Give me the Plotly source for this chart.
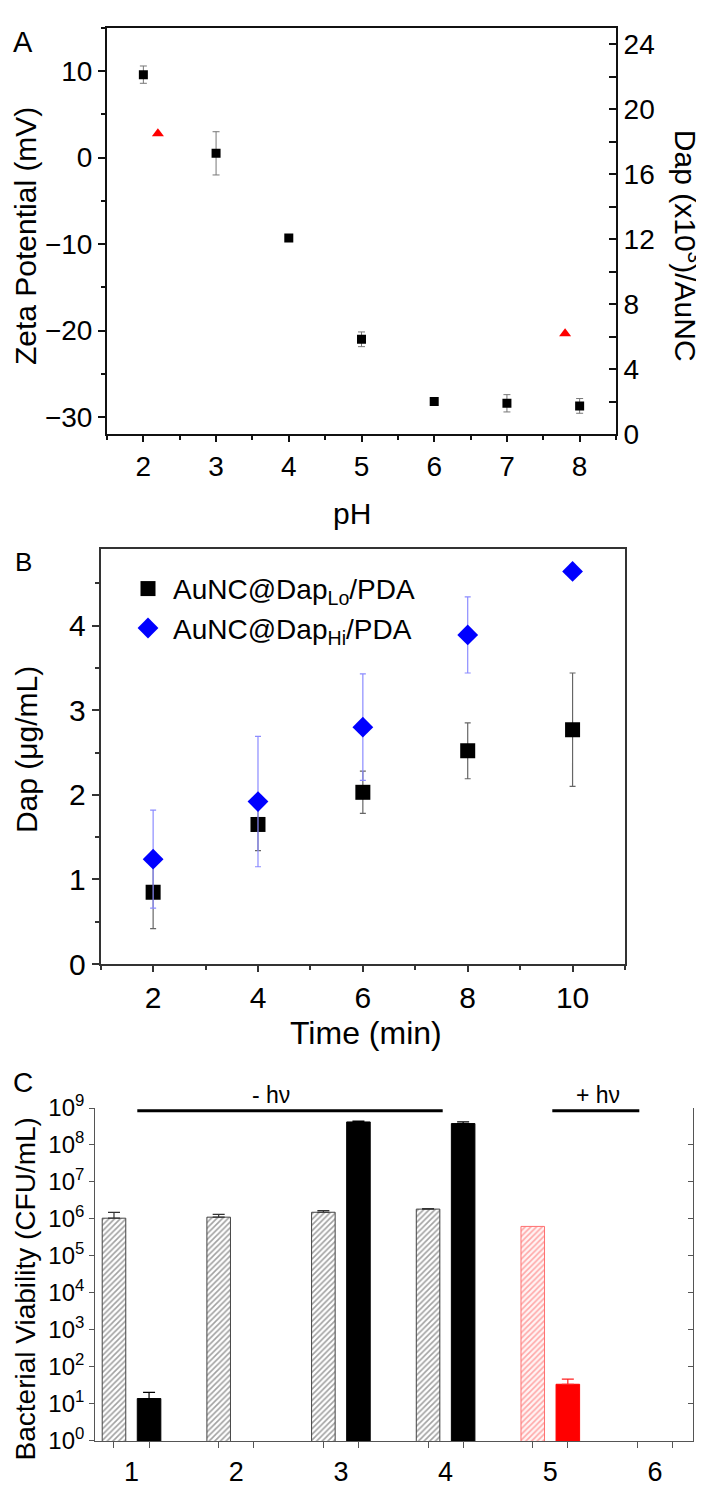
import plotly.graph_objects as go

W, H = 704, 1490
def fx(px): return px / W
def fy(py): return 1 - py / H

FONT = "Liberation Sans, Arial, sans-serif"

# ---------------- Panel A data ----------------
ph = [2, 3, 4, 5, 6, 7, 8]
zeta_mv = [9.6, 0.5, -9.3, -21.0, -28.2, -28.4, -28.7]
zeta_err = [1.0, 2.5, 0.3, 0.85, 0.3, 1.0, 0.85]
ph_dap = [2.2, 7.8]
dap_per_aunc = [18.5, 6.2]

# ---------------- Panel B data ----------------
time_min = [2, 4, 6, 8, 10]
dap_lo = [0.85, 1.65, 2.03, 2.52, 2.77]
dap_lo_err = [0.43, 0.31, 0.25, 0.33, 0.67]
dap_hi = [1.24, 1.92, 2.80, 3.89, 4.64]
dap_hi_err = [0.58, 0.77, 0.63, 0.45, 0.0]
legend_lo = "AuNC@Dap<sub>Lo</sub>/PDA"
legend_hi = "AuNC@Dap<sub>Hi</sub>/PDA"

# ---------------- Panel C data ----------------
groups = [1, 2, 3, 4, 5, 6]
group_labels = ["1", "2", "3", "4", "5", "6"]
hatched_x = [1, 2, 3, 4]
hatched_val = [1.05e6, 1.12e6, 1.52e6, 1.85e6]
hatched_err = [0.45e6, 0.22e6, 0.16e6, 0.05e6]
solid_x = [1, 3, 4]
solid_val = [14, 4.2e8, 3.8e8]
solid_err = [6.5, 0.2e8, 0.4e8]
red_hatched_x = [5]
red_hatched_val = [6.3e5]
red_solid_x = [5]
red_solid_val = [34]
red_solid_err = [13]
decades = list(range(0, 10))

BAR_W = 0.225
OFF_L = -0.28
OFF_R = 0.055

fig = go.Figure()

# Panel A
fig.add_trace(go.Scatter(
    x=ph, y=zeta_mv, mode="markers", xaxis="x", yaxis="y", showlegend=False,
    marker=dict(symbol="square", size=9, color="black"),
    error_y=dict(type="data", array=zeta_err, color="#777", thickness=1, width=3.5)))
fig.add_trace(go.Scatter(
    x=ph_dap, y=dap_per_aunc, mode="markers", xaxis="x", yaxis="y2", showlegend=False,
    marker=dict(symbol="triangle-up", size=10.5, color="#ff0000")))

# Panel B
fig.add_trace(go.Scatter(
    x=time_min, y=dap_lo, mode="markers", xaxis="x3", yaxis="y3", name=legend_lo,
    marker=dict(symbol="square", size=15, color="black"),
    error_y=dict(type="data", array=dap_lo_err, color="#666", thickness=1.2, width=3)))
fig.add_trace(go.Scatter(
    x=time_min, y=dap_hi, mode="markers", xaxis="x3", yaxis="y3", name=legend_hi,
    marker=dict(symbol="diamond", size=16, color="#0000ff"),
    error_y=dict(type="data", array=dap_hi_err, color="#8c8cff", thickness=1.2, width=3)))

# Panel C
fig.add_trace(go.Bar(
    x=hatched_x, y=hatched_val, xaxis="x4", yaxis="y4", showlegend=False,
    width=BAR_W, offset=OFF_L,
    marker=dict(color="white", line=dict(color="#444", width=1),
                pattern=dict(shape="/", fgcolor="#444", bgcolor="white", size=4, solidity=0.4)),
    error_y=dict(type="data", symmetric=False, array=hatched_err, arrayminus=[0]*len(hatched_err),
                 color="#333", thickness=1.2, width=6)))
fig.add_trace(go.Bar(
    x=solid_x, y=solid_val, xaxis="x4", yaxis="y4", showlegend=False,
    width=BAR_W, offset=OFF_R,
    marker=dict(color="black", line=dict(color="black", width=1)),
    error_y=dict(type="data", symmetric=False, array=solid_err, arrayminus=[0]*len(solid_err),
                 color="black", thickness=1.2, width=6)))
fig.add_trace(go.Bar(
    x=red_hatched_x, y=red_hatched_val, xaxis="x4", yaxis="y4", showlegend=False,
    width=BAR_W, offset=OFF_L,
    marker=dict(color="white", line=dict(color="#ff7070", width=1),
                pattern=dict(shape="/", fgcolor="#ff5a5a", bgcolor="#fff4f4", size=4, solidity=0.4))))
fig.add_trace(go.Bar(
    x=red_solid_x, y=red_solid_val, xaxis="x4", yaxis="y5", showlegend=False,
    width=BAR_W, offset=OFF_R,
    marker=dict(color="#ff0000", line=dict(color="#ff0000", width=1)),
    error_y=dict(type="data", symmetric=False, array=red_solid_err, arrayminus=[0]*len(red_solid_err),
                 color="#ff2020", thickness=1.2, width=6)))

bar_centers = [g + OFF_L + BAR_W / 2 for g in groups] + [g + OFF_R + BAR_W / 2 for g in groups]
log_vals = [10 ** d for d in decades]
log_text = ["10<sup>%d</sup>" % d for d in decades]

common = dict(showgrid=False, zeroline=False)

def tf(size):
    return dict(family=FONT, size=size, color="black")

fig.update_layout(
    width=W, height=H, margin=dict(l=0, r=0, t=0, b=0),
    paper_bgcolor="white", plot_bgcolor="white",
    font=dict(family=FONT, size=24, color="black"),
    barmode="overlay",
    showlegend=True,
    legend=dict(x=fx(115), y=fy(597), xanchor="left", yanchor="middle",
                bgcolor="rgba(0,0,0,0)", font=tf(28),
                itemwidth=40, tracegroupgap=0),
    # Panel A
    xaxis=dict(domain=[fx(99), fx(608)], range=[1.5, 8.5], anchor="y",
               showline=True, linecolor="#111", linewidth=2, mirror=True,
               ticks="outside", ticklen=6, tickwidth=1.5, tickcolor="#111", dtick=1, tick0=0,
               minor=dict(dtick=0.5, ticks="outside", ticklen=4, tickwidth=1.5, tickcolor="#111"),
               tickfont=tf(28), **common),
    yaxis=dict(domain=[fy(419), fy(3)], range=[-32, 15], anchor="x",
               showline=True, linecolor="#111", linewidth=2,
               ticks="outside", ticklen=7, tickwidth=1.5, tickcolor="#111", dtick=10, tick0=0,
               minor=dict(dtick=5, ticks="outside", ticklen=4, tickwidth=1.5, tickcolor="#111"),
               tickfont=tf(28), **common),
    yaxis2=dict(overlaying="y", side="right", anchor="x", range=[0, 25],
                showline=True, linecolor="#111", linewidth=2,
                ticks="inside", ticklen=7, tickwidth=1.5, tickcolor="#111", dtick=4, tick0=0,
                minor=dict(dtick=2, ticks="inside", ticklen=7, tickwidth=1.5, tickcolor="#111"),
                tickfont=tf(28), **common),
    # Panel B
    xaxis3=dict(domain=[fx(92.7), fx(617)], range=[1, 11], anchor="y3",
                showline=True, linecolor="#333", linewidth=1.8, mirror=True,
                ticks="outside", ticklen=6, tickwidth=1.5, tickcolor="#333", dtick=2, tick0=0,
                minor=dict(dtick=1, ticks="outside", ticklen=4, tickwidth=1.5, tickcolor="#333"),
                tickfont=tf(30), **common),
    yaxis3=dict(domain=[fy(961), fy(536.7)], range=[0, 4.9], anchor="x3",
                showline=True, linecolor="#333", linewidth=1.8, mirror=True,
                ticks="outside", ticklen=7, tickwidth=1.5, tickcolor="#333", dtick=1, tick0=0,
                minor=dict(dtick=0.5, ticks="outside", ticklen=4, tickwidth=1.5, tickcolor="#333"),
                tickfont=tf(30), **common),
    # Panel C
    xaxis4=dict(domain=[fx(87.3), fx(685.3)], range=[0.654, 6.366], anchor="y4",
                showline=True, linecolor="#555", linewidth=1.2,
                tickmode="array", tickvals=groups, ticktext=group_labels,
                ticks="outside", ticklen=7, tickcolor="rgba(0,0,0,0)",
                minor=dict(tickmode="array", tickvals=bar_centers, ticks="outside", ticklen=6,
                           tickwidth=1.2, tickcolor="#555"),
                tickfont=tf(27), **common),
    yaxis4=dict(domain=[fy(1449), fy(1108.3)], type="log", range=[0, 9], anchor="x4",
                showline=True, linecolor="#555", linewidth=1.2,
                tickmode="array", tickvals=log_vals, ticktext=log_text,
                ticks="outside", ticklen=5, tickwidth=1.2, tickcolor="#555",
                tickfont=tf(24), **common),
    yaxis5=dict(overlaying="y4", side="right", type="log", range=[0, 9], anchor="x4",
                showline=True, linecolor="#555", linewidth=1.2,
                tickmode="array", tickvals=log_vals, showticklabels=False,
                ticks="inside", ticklen=5, tickwidth=1.2, tickcolor="#555",
                tickfont=tf(24), **common),
)

def ann(text, x, y, size, angle=0):
    fig.add_annotation(text=text, x=fx(x), y=fy(y), xref="paper", yref="paper",
                       xanchor="center", yanchor="middle", showarrow=False, textangle=angle,
                       font=tf(size))

ann("A", 14.5, 17.5, 29)
ann("B", 15.5, 550, 26)
ann("C", 15, 1081.7, 28)
ann("pH", 343.5, 500, 30)
ann("Zeta Potential (mV)", 17, 216, 30, -90)
ann("Dap (x10<sup>3</sup>)/AuNC", 680, 226, 30, 90)
ann("Dap (μg/mL)", 18, 742, 30, -90)
ann("Time (min)", 358, 1032, 32)
ann("Bacterial Viability (CFU/mL)", 17, 1294, 28, -90)
ann("- hν", 263, 1095, 23)
ann("+ hν", 590, 1095, 23)

for x0, x1 in [(129.3, 434.7), (544.3, 631.3)]:
    fig.add_shape(type="line", xref="paper", yref="paper", x0=fx(x0), x1=fx(x1),
                  y0=fy(1111), y1=fy(1111), line=dict(color="black", width=3))

fig.write_html("out.html")
